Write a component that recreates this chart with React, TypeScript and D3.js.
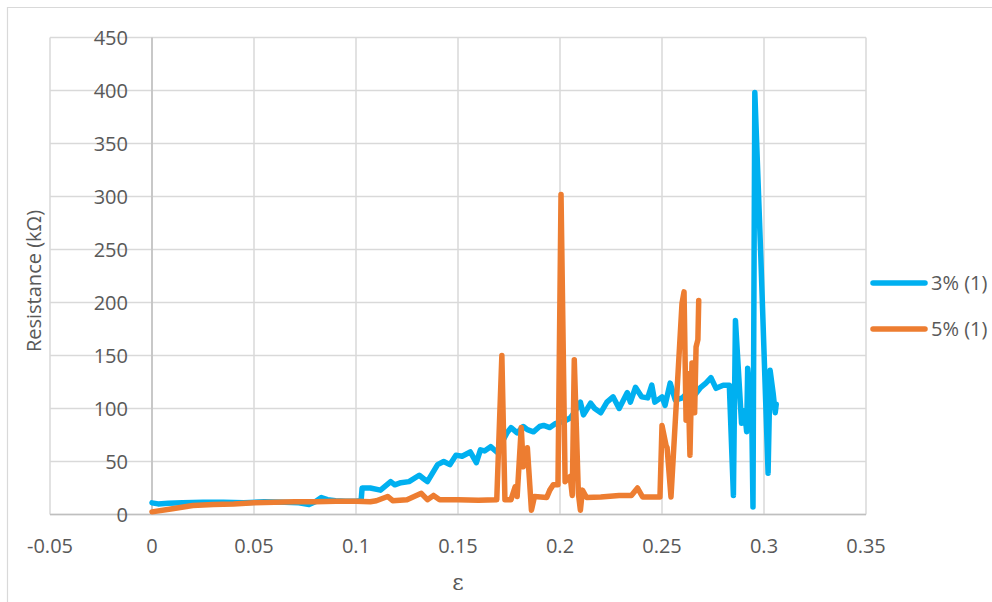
import React, { useRef, useEffect } from "react";
import * as d3 from "d3";

// strain (ε) vs resistance (kΩ)
const series3: [number, number][] = [
  [0, 11], [0.003, 10], [0.008, 10.5], [0.015, 11], [0.025, 11.5], [0.035, 11.5],
  [0.045, 11], [0.055, 12], [0.065, 11.5], [0.072, 11], [0.077, 9.5], [0.08, 12],
  [0.083, 16], [0.086, 14], [0.09, 13], [0.095, 12.5], [0.1, 12.5], [0.1025, 13],
  [0.103, 25], [0.107, 25], [0.112, 23], [0.117, 31], [0.119, 28], [0.122, 30], [0.126, 31],
  [0.131, 37], [0.133, 34], [0.135, 31], [0.14, 47], [0.143, 50], [0.146, 47], [0.149, 56],
  [0.152, 55], [0.156, 59], [0.159, 49], [0.161, 61], [0.163, 60], [0.166, 64], [0.169, 59],
  [0.174, 77], [0.176, 82], [0.179, 77], [0.182, 83], [0.184, 80], [0.187, 78], [0.19, 83],
  [0.192, 84], [0.195, 82], [0.198, 86], [0.202, 88], [0.205, 91], [0.207, 96],
  [0.21, 106], [0.2115, 94], [0.215, 105], [0.217, 100], [0.22, 96], [0.223, 106], [0.226, 111],
  [0.229, 100], [0.233, 115], [0.2345, 106], [0.237, 120], [0.24, 111], [0.243, 110],
  [0.245, 122], [0.2465, 106], [0.25, 111], [0.2515, 103], [0.254, 124], [0.2565, 108],
  [0.26, 110], [0.2625, 115], [0.265, 110], [0.269, 120], [0.2715, 124], [0.274, 129],
  [0.2765, 119], [0.28, 122], [0.283, 122], [0.285, 18], [0.286, 183], [0.289, 86],
  [0.2905, 98], [0.2915, 78], [0.292, 138], [0.294, 92], [0.2946, 7], [0.2955, 398],
  [0.2985, 240], [0.302, 39], [0.303, 136], [0.3045, 114], [0.3055, 96], [0.306, 104],
];

const series5: [number, number][] = [
  [0, 2.5], [0.01, 5.5], [0.02, 8.5], [0.03, 9.5], [0.04, 10], [0.05, 11],
  [0.06, 11.5], [0.07, 12], [0.08, 12], [0.09, 12.5], [0.1, 12.5], [0.107, 12],
  [0.11, 13], [0.1155, 17], [0.118, 13], [0.125, 14], [0.132, 20], [0.135, 14],
  [0.138, 18], [0.141, 14], [0.15, 14], [0.16, 13.5], [0.169, 14], [0.1715, 150],
  [0.173, 14], [0.176, 14], [0.178, 26], [0.179, 17], [0.181, 82], [0.182, 45],
  [0.184, 63], [0.186, 4], [0.1875, 17], [0.1935, 16], [0.195, 23], [0.1967, 28],
  [0.199, 28], [0.2005, 302], [0.2025, 31], [0.205, 36], [0.206, 18], [0.207, 146],
  [0.209, 20], [0.21, 4], [0.211, 23], [0.213, 16], [0.22, 16.5], [0.229, 18],
  [0.235, 18], [0.238, 25], [0.2405, 16.5], [0.249, 16.5], [0.25, 84], [0.252, 65],
  [0.2525, 63], [0.2544, 16.5], [0.2598, 199], [0.2608, 210], [0.2618, 89], [0.2627, 133],
  [0.2637, 56], [0.2647, 143], [0.2652, 143], [0.266, 96], [0.2667, 158], [0.2676, 165],
  [0.268, 202],
];

const xTicks = [-0.05, 0, 0.05, 0.1, 0.15, 0.2, 0.25, 0.3, 0.35];
const yTicks = [0, 50, 100, 150, 200, 250, 300, 350, 400, 450];
const seriesNames = ["3% (1)", "5% (1)"];
const colors = ["#00B0F0", "#ED7D31"];

export default function App() {
  const svgRef = useRef<SVGSVGElement>(null);

  useEffect(() => {
    document.body.style.margin = "0";
    const W = 992;
    const H = 602;
    const svg = d3.select(svgRef.current).attr("width", W).attr("height", H);
    svg.selectAll("*").remove();

    const font = "'Open Sans', sans-serif";
    const x = d3.scaleLinear().domain([-0.05, 0.35]).range([50, 866]);
    const y = d3.scaleLinear().domain([0, 450]).range([514.5, 37.5]);

    // outer frame (top + left)
    svg.append("line").attr("x1", 7).attr("x2", W).attr("y1", 7.5).attr("y2", 7.5)
      .attr("stroke", "#d9d9d9").attr("stroke-width", 1.2);
    svg.append("line").attr("x1", 7.5).attr("x2", 7.5).attr("y1", 7).attr("y2", H)
      .attr("stroke", "#d9d9d9").attr("stroke-width", 1.2);

    // gridlines
    const grid = svg.append("g");
    grid.selectAll(".gx").data(xTicks).join("line")
      .attr("x1", (d) => x(d)).attr("x2", (d) => x(d))
      .attr("y1", y(450)).attr("y2", y(0))
      .attr("stroke", "#d9d9d9").attr("stroke-width", 1.5);
    grid.selectAll(".gy").data(yTicks).join("line")
      .attr("x1", x(-0.05)).attr("x2", x(0.35))
      .attr("y1", (d) => y(d)).attr("y2", (d) => y(d))
      .attr("stroke", "#d9d9d9").attr("stroke-width", 1.5);

    // axis lines
    svg.append("line").attr("x1", x(0)).attr("x2", x(0)).attr("y1", y(450)).attr("y2", y(0))
      .attr("stroke", "#bfbfbf").attr("stroke-width", 1.5);
    svg.append("line").attr("x1", x(-0.05)).attr("x2", x(0.35)).attr("y1", y(0)).attr("y2", y(0))
      .attr("stroke", "#bfbfbf").attr("stroke-width", 1.5);

    // tick labels
    svg.append("g").selectAll("text").data(yTicks).join("text")
      .attr("x", 128).attr("y", (d) => y(d)).attr("dy", "0.35em")
      .attr("text-anchor", "end").attr("font-family", font).attr("font-size", 20)
      .attr("fill", "#595959").text((d) => d3.format("d")(d));
    svg.append("g").selectAll("text").data(xTicks).join("text")
      .attr("x", (d) => x(d)).attr("y", 546).attr("dy", "0.35em")
      .attr("text-anchor", "middle").attr("font-family", font).attr("font-size", 20)
      .attr("fill", "#595959").text((d) => String(+d.toFixed(2)));

    // axis titles
    svg.append("text").attr("transform", "translate(41,281) rotate(-90)")
      .attr("text-anchor", "middle").attr("font-family", font).attr("font-size", 20)
      .attr("fill", "#595959").text("Resistance (kΩ)");
    svg.append("text").attr("x", 458).attr("y", 590)
      .attr("text-anchor", "middle").attr("font-family", "'DejaVu Serif', serif").attr("font-size", 22)
      .attr("fill", "#595959").text("ε");

    // series
    const line = d3.line<[number, number]>().x((d) => x(d[0])).y((d) => y(d[1]));
    [series3, series5].forEach((s, i) => {
      svg.append("path").datum(s).attr("d", line)
        .attr("fill", "none").attr("stroke", colors[i]).attr("stroke-width", 5.5)
        .attr("stroke-linejoin", "round").attr("stroke-linecap", "round");
    });

    // legend
    const legendY = [283, 329];
    seriesNames.forEach((name, i) => {
      svg.append("line").attr("x1", 873).attr("x2", 925)
        .attr("y1", legendY[i]).attr("y2", legendY[i])
        .attr("stroke", colors[i]).attr("stroke-width", 5.5).attr("stroke-linecap", "round");
      svg.append("text").attr("x", 931).attr("y", legendY[i]).attr("dy", "0.35em")
        .attr("font-family", font).attr("font-size", 20).attr("fill", "#595959").text(name);
    });
  }, []);

  return (
    <div style={{ position: "absolute", left: 0, top: 0 }}>
      <svg ref={svgRef}></svg>
    </div>
  );
}
